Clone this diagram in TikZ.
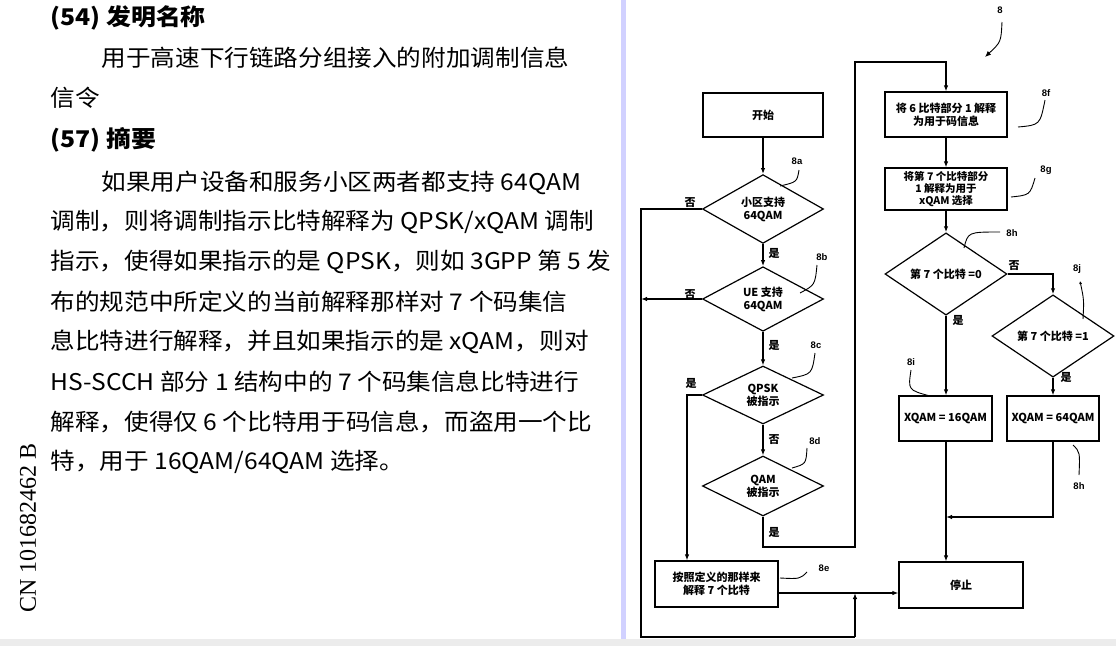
\documentclass[tikz,border=0pt]{standalone}
\usepackage{fontspec}
\setmainfont{Liberation Serif}
\newfontfamily\cjk{Noto Sans CJK SC}
\usetikzlibrary{shapes.geometric,arrows.meta}
\tikzset{
  box/.style={draw,rectangle,inner sep=1pt,align=center,font=\cjk\bfseries\fontsize{11}{13}\selectfont},
  dia/.style={draw,diamond,inner sep=0pt,minimum width=121,minimum height=58,align=center,font=\cjk\bfseries\fontsize{11}{13}\selectfont},
  yn/.style={font=\cjk\bfseries\fontsize{11}{12}\selectfont},
  rf/.style={font=\fontspec{Liberation Sans}\bfseries\fontsize{9.5}{10}\selectfont},
  lead/.style={line width=0.9pt},
  body/.style={anchor=west,inner sep=0pt,font=\cjk\fontsize{23}{26}\selectfont,xscale=1.07,transform shape},
  head/.style={anchor=west,inner sep=0pt,font=\cjk\bfseries\fontsize{23}{26}\selectfont,xscale=1.08,transform shape}
}
\begin{document}
\begin{tikzpicture}[x=1pt,y=-1pt,line width=1.2pt,>={Latex[length=6pt,width=4.5pt]}]
\useasboundingbox (0,0) rectangle (1116,646);
\fill[gray!15] (0,639) rectangle (1116,646);
\fill[blue!18] (621,0) rectangle (626,639);
% left text
\node[head] (t1) at (50,18) {(54) 发明名称};
\node[body] (t2) at (101,58) {用于高速下行链路分组接入的附加调制信息};
\node[body] (t3) at (50,98) {信令};
\node[head] (t4) at (50,140) {(57) 摘要};
\node[body] (t5) at (101,183) {如果用户设备和服务小区两者都支持 64QAM};
\node[body] (t6) at (50,222) {调制，则将调制指示比特解释为 QPSK/xQAM 调制};
\node[body] (t7) at (50,262) {指示，使得如果指示的是 QPSK，则如 3GPP 第 5 发};
\node[body] (t8) at (50,302) {布的规范中所定义的当前解释那样对 7 个码集信};
\node[body] (t9) at (50,342) {息比特进行解释，并且如果指示的是 xQAM，则对};
\node[body] (t10) at (50,382) {HS-SCCH 部分 1 结构中的 7 个码集信息比特进行};
\node[body] (t11) at (50,422) {解释，使得仅 6 个比特用于码信息，而盗用一个比};
\node[body] (t12) at (50,462) {特，用于 16QAM/64QAM 选择。};
\node[rotate=90,inner sep=0pt,font=\fontsize{24}{26}\selectfont] (cn) at (28,528) {CN 101682462 B};
% flowchart nodes
\node[box,minimum width=120,minimum height=44] (start) at (763,115) {开始};
\node[dia] (a) at (763,209) {小区支持\\64QAM};
\node[dia] (b) at (763,299) {UE 支持\\64QAM};
\node[dia] (c) at (763,395) {QPSK\\被指示};
\node[dia,minimum height=60] (d) at (763,486) {QAM\\被指示};
\node[box,minimum width=123,minimum height=46] (e) at (716.5,584) {按照定义的那样来\\解释 7 个比特};
\node[box,minimum width=124,minimum height=46] (stop) at (961,585) {停止};
\node[box,minimum width=122,minimum height=45] (f) at (946,114.5) {将 6 比特部分 1 解释\\为用于码信息};
\node[box,minimum width=122,minimum height=42,inner sep=0pt,font=\cjk\bfseries\fontsize{10.5}{12}\selectfont] (g) at (946,189) {将第 7 个比特部分\\1 解释为用于\\xQAM 选择};
\node[dia,minimum width=122] (h) at (946,274) {第 7 个比特 =0};
\node[dia,minimum width=122,minimum height=59] (j) at (1053,336) {第 7 个比特 =1};
\node[box,minimum width=93,minimum height=45] (i) at (945.5,418.5) {XQAM = 16QAM};
\node[box,minimum width=92,minimum height=45] (k) at (1053,418.5) {XQAM = 64QAM};
% helper coordinates
\coordinate (lx) at (641,0);
\coordinate (bl) at (641,637);
\coordinate (br) at (855,637);
\coordinate (jn) at (855,593);
\coordinate (dr) at (855,547);
\coordinate (tp) at (855,62);
\coordinate (m2) at (946,517);
% connectors
\draw[->] (start) -- (a);
\draw[->] (a) -- (b);
\draw[->] (b) -- (c);
\draw[->] (c) -- (d);
\draw (a.west) -| (bl) -- (br);
\draw[->] (br) -- (jn);
\draw[->] (b.west) -- (b.west -| lx);
\draw[->] (c.west) -| ([xshift=-29.5]e.north);
\draw[->] (d.south) |- (dr) -- (tp) -| (f.north);
\draw[->] ([yshift=-9]e.east) -- ([yshift=-8]stop.west);
\draw[->] (f) -- (g);
\draw[->] (g) -- (h);
\draw[->] (h.south) -- (h.south |- i.north);
\draw[->] (h.east) -| (j.north);
\draw[->] (j) -- (k);
\draw[->] (i.south -| h.south) -- (h.south |- stop.north);
\draw[->] (k.south) |- (m2);
% yes/no labels
\node[yn] (n1) at (690,203) {否};
\node[yn] (y1) at (774,253) {是};
\node[yn] (n2) at (690,295) {否};
\node[yn] (y2) at (774,345) {是};
\node[yn] (y3) at (691,383) {是};
\node[yn] (n3) at (774,440) {否};
\node[yn] (y4) at (774,532) {是};
\node[yn] (n4) at (1014,266) {否};
\node[yn] (y5) at (958,320) {是};
\node[yn] (y6) at (1066,377) {是};
% reference labels
\node[rf] (r8) at (1000,10) {8};
\draw[lead,->,>={Latex[length=6pt,width=5pt]}] (1002,22) .. controls (1001,42) .. (985,57);
\node[rf] (r8a) at (797,161) {8a};
\draw[lead] (780,186) .. controls (797,182) .. (799,170);
\node[rf] (r8b) at (822,257) {8b};
\draw[lead] (800,293) .. controls (815,285) .. (817,265);
\node[rf] (r8c) at (816,345) {8c};
\draw[lead] (792,378) .. controls (812,374) .. (815,353);
\node[rf] (r8d) at (815,441) {8d};
\draw[lead] (792,468) .. controls (806,464) .. (807,448);
\node[rf] (r8e) at (824,568) {8e};
\draw[lead] (780,578) .. controls (800,579) .. (807,572);
\node[rf] (r8f) at (1046,93) {8f};
\draw[lead] (1018,127) .. controls (1040,125) .. (1045,100);
\node[rf] (r8g) at (1046,170) {8g};
\draw[lead] (1011,197) .. controls (1030,195) .. (1035,178);
\node[rf] (r8h) at (1012,233) {8h};
\draw[lead] (964,248) .. controls (968,232) .. (1000,232);
\node[rf] (r8j) at (1077,269) {8j};
\draw[lead,->,>={Latex[length=3pt,width=3pt]}] (1083,319) .. controls (1084,300) .. (1080,281);
\node[rf] (r8i) at (911,362) {8i};
\draw[lead] (911,370) .. controls (908,390) .. (930,396);
\node[rf] (r8h2) at (1079,486) {8h};
\draw[lead] (1073,445) .. controls (1080,452) .. (1079,475);
\end{tikzpicture}
\end{document}
